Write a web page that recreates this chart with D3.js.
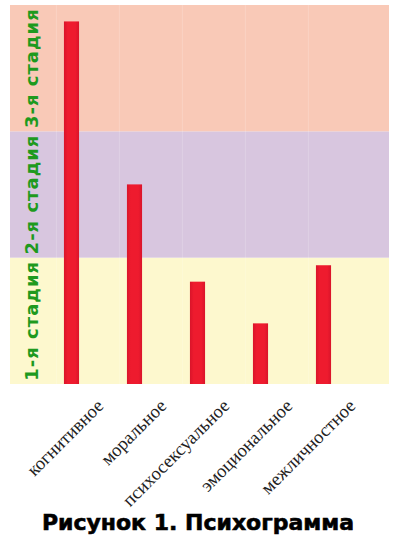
<!DOCTYPE html>
<html><head><meta charset="utf-8">
<script src="https://cdn.jsdelivr.net/npm/d3@7"></script>
<style>body{margin:0;background:#fff}svg{display:block}</style>
</head><body>
<svg id="c" width="400" height="548"></svg>
<script>
const categories = ["когнитивное","моральное","психосексуальное","эмоциональное","межличностное"];
const values = [2.87, 1.58, 0.81, 0.48, 0.94];
const stages = ["1-я стадия","2-я стадия","3-я стадия"];
const stageColors = ["#FDF8CE","#D8C6DF","#F9C9B7"];
const title = "Рисунок 1. Психограмма";

const svg = d3.select("#c");
const pL = 10, pR = 389, pT = 5, pB = 384;
const y = d3.scaleLinear().domain([0, 3]).range([pB, pT]);
const x = d3.scaleBand().domain(categories).range([40, 355]).paddingInner(0.76).paddingOuter(0.38);

// bands
svg.append("g").selectAll("rect").data(stages).join("rect")
  .attr("x", pL).attr("width", pR - pL)
  .attr("y", (d,i) => y(i+1)).attr("height", (d,i) => y(i) - y(i+1))
  .attr("fill", (d,i) => stageColors[i]);

// faint grid
svg.append("g").selectAll("line").data(categories).join("line")
  .attr("x1", d => x(d) - x.step()*0.12).attr("x2", d => x(d) - x.step()*0.12)
  .attr("y1", pT).attr("y2", pB)
  .attr("stroke", "#ffffff").attr("stroke-opacity", 0.18).attr("stroke-width", 1);

// gradient
const defs = svg.append("defs");
const g = defs.append("linearGradient").attr("id","bg").attr("x1",0).attr("x2",1).attr("y1",0).attr("y2",0);
g.append("stop").attr("offset","0%").attr("stop-color","#D9142A");
g.append("stop").attr("offset","25%").attr("stop-color","#EE1B2E");
g.append("stop").attr("offset","75%").attr("stop-color","#EE1B2E");
g.append("stop").attr("offset","100%").attr("stop-color","#D9142A");

svg.append("g").selectAll("rect").data(values).join("rect")
  .attr("x", (d,i) => x(categories[i])).attr("width", x.bandwidth())
  .attr("y", d => y(d)).attr("height", d => pB - y(d))
  .attr("fill", "url(#bg)");

// stage labels
svg.append("g").selectAll("text").data(stages).join("text")
  .attr("transform", (d,i) => `translate(38,${(y(i)+y(i+1))/2}) rotate(-90)`)
  .attr("text-anchor","middle")
  .attr("font-family","DejaVu Sans").attr("font-weight","bold").attr("font-size",18)
  .attr("letter-spacing",1)
  .attr("fill","#1E9A1E").text(d => d);

// x axis labels
const ax = svg.append("g").attr("transform", `translate(0,${pB})`)
  .call(d3.axisBottom(x).tickSize(0).tickPadding(0));
ax.select(".domain").remove();
ax.selectAll("text")
  .attr("font-family","Liberation Serif").attr("font-size",18.5).attr("fill","#222")
  .attr("text-anchor","end").attr("dy",null).attr("y",0)
  .attr("transform","translate(33,23) rotate(-45)");

svg.append("text").attr("x",198).attr("y",530).attr("text-anchor","middle")
  .attr("font-family","DejaVu Sans").attr("font-weight","bold").attr("font-size",22)
  .attr("fill","#000").attr("stroke","#000").attr("stroke-width",0.6).text(title);
</script>
</body></html>
